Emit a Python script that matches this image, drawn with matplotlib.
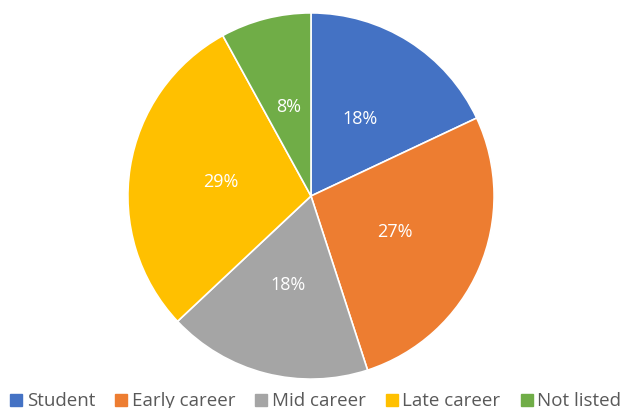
import matplotlib
matplotlib.use("Agg")
import matplotlib.pyplot as plt
from matplotlib.lines import Line2D

categories = ["Student", "Early career", "Mid career", "Late career", "Not listed"]
shares = [18, 27, 18, 29, 8]
colors = ["#4472C4", "#ED7D31", "#A5A5A5", "#FFC000", "#70AD47"]

plt.rcParams['font.family'] = ['Open Sans', 'DejaVu Sans']

fig = plt.figure(figsize=(6.21, 4.08), dpi=100)
ax = fig.add_axes([0.2045, 0.0686, 0.5926, 0.902])

wedges, texts, autotexts = ax.pie(
    shares, colors=colors, startangle=90, counterclock=False,
    autopct=lambda p: f"{p:.0f}%", pctdistance=0.5,
    wedgeprops=dict(edgecolor="white", linewidth=1.2),
    textprops=dict(color="white", fontsize=13),
)
ax.set_aspect("equal")
ax.set_xlim(-1.005, 1.005)
ax.set_ylim(-1.005, 1.005)

handles = [Line2D([0], [0], marker="s", linestyle="", markersize=8,
                  markerfacecolor=c, markeredgecolor=c) for c in colors]
fig.legend(handles, categories, loc="center", bbox_to_anchor=(0.507, 0.016),
           ncol=5, frameon=False, fontsize=13.5, handletextpad=0.15,
           columnspacing=1.0, handlelength=0.8, labelcolor="#595959",
           borderaxespad=0, borderpad=0)

fig.savefig("out.png", dpi=100)
